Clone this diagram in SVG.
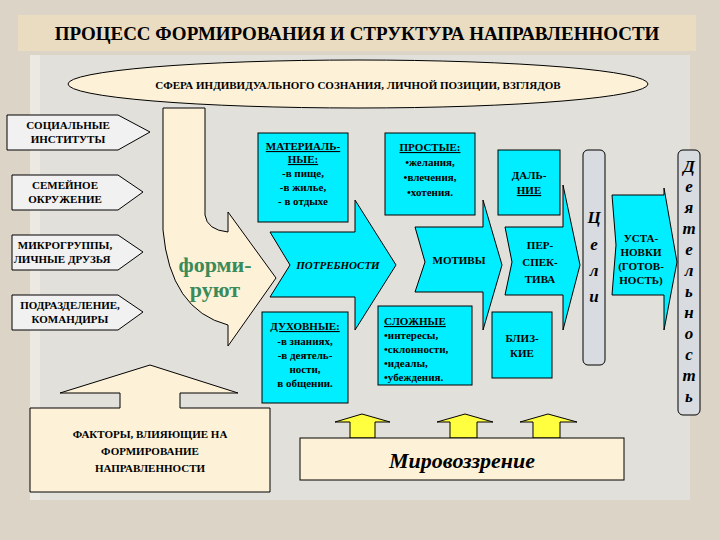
<svg xmlns="http://www.w3.org/2000/svg" width="720" height="540" viewBox="0 0 720 540" font-family="'Liberation Serif', 'DejaVu Serif', serif">
<style>
text{font-family:'Liberation Serif','DejaVu Serif',serif;fill:#000}
.b{font-weight:bold;font-size:11px}
.c{fill:#00eeff;stroke:#000;stroke-width:1}
.p{fill:#f1f1f1;stroke:#000;stroke-width:1}
.y{fill:#fdf2d8;stroke:#000;stroke-width:1}
.v{fill:#d8dbe0;stroke:#000;stroke-width:1}
.vt{font-style:italic;font-weight:bold;font-size:17px}
.ar{fill:#ffff40;stroke:#000;stroke-width:1}
</style>
<rect width="720" height="540" fill="#dcd4c6"/>
<rect x="30" y="55" width="660" height="445" fill="#e2e0db"/>
<rect x="30" y="55" width="10" height="445" fill="#ece9e3"/>
<rect x="18" y="15" width="678" height="36" fill="#eadcc0"/>
<text x="357" y="40" text-anchor="middle" font-size="19" font-weight="bold">ПРОЦЕСС ФОРМИРОВАНИЯ И СТРУКТУРА НАПРАВЛЕННОСТИ</text>
<g id="sphere"><ellipse cx="358" cy="84" rx="290" ry="24" class="y"/>
<text x="358" y="89" text-anchor="middle" class="b" font-size="12">СФЕРА ИНДИВИДУАЛЬНОГО СОЗНАНИЯ,  ЛИЧНОЙ ПОЗИЦИИ, ВЗГЛЯДОВ</text></g>
<g id="soc"><path d="M7,115H118L150,132L118,150H7Z" class="p"/><text x="68" y="129" text-anchor="middle" class="b">СОЦИАЛЬНЫЕ</text><text x="68" y="143" text-anchor="middle" class="b">ИНСТИТУТЫ</text></g>
<g id="fam"><path d="M12,175H118L143,192L118,210H12Z" class="p"/><text x="65" y="189" text-anchor="middle" class="b">СЕМЕЙНОЕ</text><text x="65" y="203" text-anchor="middle" class="b">ОКРУЖЕНИЕ</text></g>
<g id="micro"><path d="M12,235H118L143,252L118,270H12Z" class="p"/><text x="65" y="249" text-anchor="middle" class="b">МИКРОГРУППЫ,</text><text x="62" y="263" text-anchor="middle" class="b">ЛИЧНЫЕ ДРУЗЬЯ</text></g>
<g id="pod"><path d="M12,295H118L143,312L118,330H12Z" class="p"/><text x="70" y="309" text-anchor="middle" class="b">ПОДРАЗДЕЛЕНИЕ,</text><text x="70" y="323" text-anchor="middle" class="b">КОМАНДИРЫ</text></g>
<g id="form"><path d="M163,108H205V215Q207,230 228,232V212L276,278L228,346V325Q170,310 163,230Z" class="y"/>
<text x="215" y="272" text-anchor="middle" font-size="22" font-weight="bold" style="fill:#3a8a5a">форми-</text>
<text x="215" y="297" text-anchor="middle" font-size="22" font-weight="bold" style="fill:#3a8a5a">руют</text></g>
<g id="factors"><path d="M30,408H120V393H60L150,365L238,393H180V408H270V492H30Z" class="y"/>
<text x="150" y="438" text-anchor="middle" class="b">ФАКТОРЫ, ВЛИЯЮЩИЕ НА</text><text x="150" y="455" text-anchor="middle" class="b">ФОРМИРОВАНИЕ</text><text x="150" y="472" text-anchor="middle" class="b">НАПРАВЛЕННОСТИ</text></g>
<g id="potr"><path d="M270,232H355V200L396,265L355,330V297H270L290,265Z" class="c"/><text x="338" y="269" text-anchor="middle" class="b" font-style="italic">ПОТРЕБНОСТИ</text></g>
<g id="mat"><rect x="258" y="133" width="90" height="89" class="c"/>
<text x="303" y="150" text-anchor="middle" class="b" text-decoration="underline">МАТЕРИАЛЬ-</text><text x="303" y="163" text-anchor="middle" class="b" text-decoration="underline">НЫЕ:</text>
<text x="303" y="177" text-anchor="middle" class="b">-в пище,</text><text x="303" y="191" text-anchor="middle" class="b">-в жилье,</text><text x="303" y="205" text-anchor="middle" class="b"> - в отдыхе</text></g>
<g id="duh"><rect x="262" y="312" width="86" height="91" class="c"/>
<text x="305" y="330" text-anchor="middle" class="b" text-decoration="underline">ДУХОВНЫЕ:</text><text x="305" y="345" text-anchor="middle" class="b">-в знаниях,</text><text x="305" y="359" text-anchor="middle" class="b">-в деятель-</text><text x="305" y="373" text-anchor="middle" class="b">ности,</text><text x="305" y="387" text-anchor="middle" class="b">в общении.</text></g>
<g id="motiv"><path d="M415,227H483V200L502,265L483,330V292H415L425,262Z" class="c"/><text x="459" y="264" text-anchor="middle" class="b">МОТИВЫ</text></g>
<g id="prost"><rect x="385" y="133" width="90" height="82" class="c"/>
<text x="430" y="151" text-anchor="middle" class="b" text-decoration="underline">ПРОСТЫЕ:</text><text x="430" y="166" text-anchor="middle" class="b">•желания,</text><text x="430" y="181" text-anchor="middle" class="b">•влечения,</text><text x="430" y="196" text-anchor="middle" class="b">•хотения.</text></g>
<g id="slozh"><rect x="378" y="306" width="94" height="79" class="c"/>
<text x="384" y="325" class="b" text-decoration="underline">СЛОЖНЫЕ</text><text x="384" y="339" class="b">•интересы,</text><text x="384" y="353" class="b">•склонности,</text><text x="384" y="367" class="b">•идеалы,</text><text x="384" y="381" class="b">•убеждения.</text></g>
<g id="persp"><path d="M505,227H563V185L580,265L563,330V295H505L512,262Z" class="c"/><text x="540" y="249" text-anchor="middle" class="b">ПЕР-</text><text x="540" y="266" text-anchor="middle" class="b">СПЕК-</text><text x="540" y="283" text-anchor="middle" class="b">ТИВА</text></g>
<g id="dal"><rect x="498" y="150" width="62" height="65" class="c"/><text x="529" y="179" text-anchor="middle" class="b">ДАЛЬ-</text><text x="529" y="194" text-anchor="middle" class="b" text-decoration="underline">НИЕ</text></g>
<g id="bliz"><rect x="492" y="312" width="60" height="66" class="c"/><text x="522" y="342" text-anchor="middle" class="b">БЛИЗ-</text><text x="522" y="357" text-anchor="middle" class="b">КИЕ</text></g>
<g id="celi"><rect x="583" y="150" width="22" height="215" rx="5" class="v"/>
<text x="594" y="223" text-anchor="middle" class="vt" font-size="22">Ц</text><text x="594" y="250" text-anchor="middle" class="vt" font-size="20">е</text><text x="594" y="276" text-anchor="middle" class="vt" font-size="20">л</text><text x="594" y="302" text-anchor="middle" class="vt" font-size="20">и</text></g>
<g id="ustan"><path d="M612,195H664V188L677,262L664,330V295H612L616,245Z" class="c"/><text x="641" y="242" text-anchor="middle" class="b" font-size="10">УСТА-</text><text x="641" y="256" text-anchor="middle" class="b" font-size="10">НОВКИ</text><text x="641" y="270" text-anchor="middle" class="b" font-size="10">(ГОТОВ-</text><text x="641" y="284" text-anchor="middle" class="b" font-size="10">НОСТЬ)</text></g>
<g id="deyat"><rect x="678" y="150" width="22" height="265" rx="5" class="v"/>
<text x="689" y="172" text-anchor="middle" class="vt" font-size="20">Д</text><text x="689" y="192" text-anchor="middle" class="vt">е</text><text x="689" y="213" text-anchor="middle" class="vt">я</text><text x="689" y="234" text-anchor="middle" class="vt">т</text><text x="689" y="255" text-anchor="middle" class="vt">е</text><text x="689" y="276" text-anchor="middle" class="vt">л</text><text x="689" y="297" text-anchor="middle" class="vt">ь</text><text x="689" y="318" text-anchor="middle" class="vt">н</text><text x="689" y="339" text-anchor="middle" class="vt">о</text><text x="689" y="360" text-anchor="middle" class="vt">с</text><text x="689" y="381" text-anchor="middle" class="vt">т</text><text x="689" y="402" text-anchor="middle" class="vt">ь</text></g>
<g id="connectors">
<path d="M350,438V422H335L362,414L390,422H375V438Z" class="ar"/>
<path d="M450,438V422H437L465,414L493,422H477V438Z" class="ar"/>
<path d="M533,438V422H520L548,414L577,422H560V438Z" class="ar"/>
</g>
<g id="mir"><rect x="300" y="438" width="324" height="42" class="y"/><text x="462" y="468" text-anchor="middle" font-size="22" font-style="italic" font-weight="bold">Мировоззрение</text></g>
</svg>
